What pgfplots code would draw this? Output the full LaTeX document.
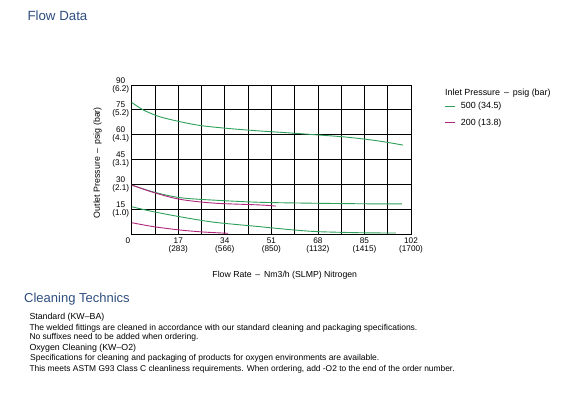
\documentclass[border=0pt]{standalone}
\usepackage{pgfplots}
\pgfplotsset{compat=1.18}
\usepackage{fontspec}
\setmainfont{Liberation Sans}
\definecolor{cgreen}{HTML}{2EA05A}
\definecolor{cmag}{HTML}{B0277D}
\definecolor{ctitle}{HTML}{2F4F7F}
\begin{document}
\begin{tikzpicture}[x=1pt,y=1pt]
\useasboundingbox[fill=white] (0pt,0pt) rectangle (587pt,-394pt);
\begin{axis}[
  at={(131.7pt,-234.3pt)}, anchor=south west,
  scale only axis, width=279.3pt, height=149.3pt,
  xmin=0, xmax=102, ymin=0, ymax=90,
  xtick={0,17,34,51,68,85,102},
  minor xtick={8.5,25.5,42.5,59.5,76.5,93.5},
  xticklabels={{\llap{0\kern1.4pt}},{17\\(283)},{34\\(566)},{51\\(850)},{68\\(1132)},{85\\(1415)},{102\\(1700)}},
  ytick={15,30,45,60,75,90},
  yticklabels={{15\\(1.0)},{30\\(2.1)},{45\\(3.1)},{60\\(4.1)},{75\\(5.2)},{90\\(6.2)}},
  xticklabel style={align=center, font=\fontsize{8.2}{8.2}\selectfont},
  yticklabel style={align=center, font=\fontsize{8.2}{8}\selectfont, xshift=1pt},
  xmajorgrids, xminorgrids, ymajorgrids,
  grid style={black, line width=0.8pt},
  minor grid style={black, line width=0.8pt},
  axis line style={black, line width=0.8pt},
  major tick length=0pt, minor tick length=0pt,
  tick align=inside,
  /pgf/number format/assume math mode=true,
  xlabel={Flow Rate \,–\, Nm3/h (SLMP) Nitrogen},
  ylabel={Outlet Pressure \,–\, psig (bar)},
  xlabel style={font=\fontsize{8.7}{9}\selectfont, at={(axis description cs:0.548,0)}, anchor=center, yshift=-41.4pt},
  ylabel style={font=\fontsize{8.8}{9}\selectfont, at={(axis description cs:-0.1217,0.48)}, anchor=center},
  clip=false,
]
\addplot[cgreen, line width=0.9pt, smooth] coordinates {
 (0,79.5) (4.2,75) (10,71) (17.6,67.9) (25,65.6) (34.6,63.9) (46.8,62.3) (57,61.2) (68,59.9) (77,58.8) (85,57.4) (92,55.8) (99.1,53.8)};
\addplot[cgreen, line width=0.9pt, smooth] coordinates {
 (0,29.7) (8,25.5) (17.6,22.1) (30,20.6) (46.8,19.3) (68,18.7) (85,18.4) (98.7,18.3)};
\addplot[cgreen, line width=0.9pt, smooth] coordinates {
 (0,16.6) (8,13.6) (17.6,10.6) (30,7.3) (46.8,4.6) (58,2.8) (68,1.6) (85,0.9) (96.5,0.8)};
\addplot[cmag, line width=0.9pt, smooth] coordinates {
 (0,29.7) (8,25.2) (17.6,21.1) (30,18.8) (46.8,17.7) (52.6,17.0)};
\addplot[cmag, line width=0.9pt, smooth] coordinates {
 (0,7.0) (8,4.6) (17.6,2.6) (26,1.4) (35.2,0.6)};
\end{axis}
\node[anchor=west, text=ctitle, font=\fontsize{13.3}{14}\selectfont, inner sep=0pt] at (27.3pt,-15.5pt) {Flow Data};
\node[anchor=west, font=\fontsize{8.9}{9}\selectfont, inner sep=0pt] at (445pt,-92.7pt) {Inlet Pressure \,–\, psig (bar)};
\draw[cgreen, line width=0.9pt] (445pt,-106pt) -- (455pt,-106pt);
\node[anchor=west, font=\fontsize{8.9}{9}\selectfont, inner sep=0pt] at (460.7pt,-106pt) {500 (34.5)};
\draw[cmag, line width=0.9pt] (445pt,-122.7pt) -- (455pt,-122.7pt);
\node[anchor=west, font=\fontsize{8.9}{9}\selectfont, inner sep=0pt] at (460.7pt,-122.7pt) {200 (13.8)};
\node[anchor=west, text=ctitle, font=\fontsize{13}{14}\selectfont, inner sep=0pt] at (24pt,-299pt) {Cleaning Technics};
\node[anchor=west, font=\fontsize{8.8}{9}\selectfont, inner sep=0pt] at (29.3pt,-317pt) {Standard (KW–BA)};
\node[anchor=west, font=\fontsize{8.5}{9}\selectfont, inner sep=0pt] at (29.3pt,-328pt) {The welded fittings are cleaned in accordance with our standard cleaning and packaging specifications.};
\node[anchor=west, font=\fontsize{8.5}{9}\selectfont, inner sep=0pt] at (29.3pt,-337.3pt) {No suffixes need to be added when ordering.};
\node[anchor=west, font=\fontsize{8.8}{9}\selectfont, inner sep=0pt] at (29.3pt,-348.3pt) {Oxygen Cleaning (KW–O2)};
\node[anchor=west, font=\fontsize{8.5}{9}\selectfont, inner sep=0pt] at (30pt,-358.7pt) {Specifications for cleaning and packaging of products for oxygen environments are available.};
\node[anchor=west, font=\fontsize{8.4}{9}\selectfont, inner sep=0pt] at (29.3pt,-369.3pt) {This meets ASTM G93 Class C cleanliness requirements. When ordering, add -O2 to the end of the order number.};
\end{tikzpicture}
\end{document}
